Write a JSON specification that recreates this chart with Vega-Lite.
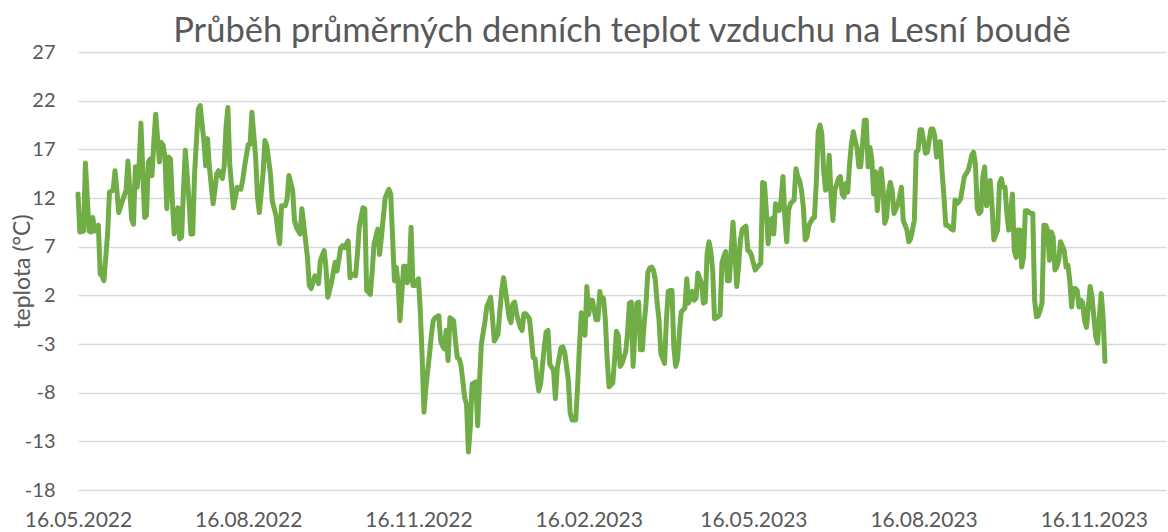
{
  "$schema": "https://vega.github.io/schema/vega-lite/v6.json",
  "width": 1088,
  "height": 438,
  "autosize": "none",
  "padding": {"left": 78, "top": 52, "right": 2, "bottom": 42},
  "background": "white",
  "config": {"view": {"stroke": null}, "font": "Lato"},
  "title": {"text": "Průběh průměrných denních teplot vzduchu na Lesní boudě", "font": "Lato", "fontSize": 34.5, "fontWeight": "normal", "color": "#595959", "anchor": "middle", "offset": 4, "dy": 11},
  "data": {"values": [
{"datum":"2022-05-16","teplota":12.4},{"datum":"2022-05-17","teplota":8.5},{"datum":"2022-05-19","teplota":8.6},{"datum":"2022-05-20","teplota":15.6},{"datum":"2022-05-22","teplota":8.6},{"datum":"2022-05-23","teplota":8.5},{"datum":"2022-05-24","teplota":10.0},{"datum":"2022-05-25","teplota":8.6},{"datum":"2022-05-27","teplota":9.2},{"datum":"2022-05-28","teplota":4.2},{"datum":"2022-05-29","teplota":4.0},{"datum":"2022-05-30","teplota":3.5},
{"datum":"2022-06-01","teplota":8.3},{"datum":"2022-06-02","teplota":12.6},{"datum":"2022-06-04","teplota":12.8},{"datum":"2022-06-05","teplota":14.8},{"datum":"2022-06-06","teplota":12.8},{"datum":"2022-06-07","teplota":10.5},{"datum":"2022-06-09","teplota":11.7},{"datum":"2022-06-11","teplota":12.8},{"datum":"2022-06-12","teplota":15.8},{"datum":"2022-06-14","teplota":9.8},{"datum":"2022-06-15","teplota":9.3},{"datum":"2022-06-16","teplota":15.2},{"datum":"2022-06-17","teplota":13.1},{"datum":"2022-06-18","teplota":15.2},{"datum":"2022-06-19","teplota":19.7},{"datum":"2022-06-21","teplota":10.0},{"datum":"2022-06-22","teplota":10.2},{"datum":"2022-06-23","teplota":15.7},{"datum":"2022-06-24","teplota":16.0},{"datum":"2022-06-25","teplota":14.3},{"datum":"2022-06-26","teplota":17.9},{"datum":"2022-06-27","teplota":20.6},{"datum":"2022-06-29","teplota":15.7},{"datum":"2022-06-30","teplota":17.7},
{"datum":"2022-07-01","teplota":17.4},{"datum":"2022-07-02","teplota":16.2},{"datum":"2022-07-03","teplota":10.9},{"datum":"2022-07-04","teplota":16.2},{"datum":"2022-07-05","teplota":16.0},{"datum":"2022-07-06","teplota":11.7},{"datum":"2022-07-07","teplota":8.3},{"datum":"2022-07-09","teplota":11.0},{"datum":"2022-07-10","teplota":7.8},{"datum":"2022-07-11","teplota":8.0},{"datum":"2022-07-12","teplota":12.8},{"datum":"2022-07-13","teplota":16.9},{"datum":"2022-07-15","teplota":11.7},{"datum":"2022-07-16","teplota":8.3},{"datum":"2022-07-17","teplota":8.3},{"datum":"2022-07-18","teplota":14.5},{"datum":"2022-07-20","teplota":21.1},{"datum":"2022-07-21","teplota":21.5},{"datum":"2022-07-23","teplota":17.9},{"datum":"2022-07-24","teplota":15.3},{"datum":"2022-07-25","teplota":18.1},{"datum":"2022-07-26","teplota":15.2},{"datum":"2022-07-28","teplota":11.4},{"datum":"2022-07-29","teplota":12.8},{"datum":"2022-07-30","teplota":14.5},{"datum":"2022-07-31","teplota":14.8},
{"datum":"2022-08-02","teplota":14.0},{"datum":"2022-08-03","teplota":15.3},{"datum":"2022-08-04","teplota":19.3},{"datum":"2022-08-05","teplota":21.3},{"datum":"2022-08-06","teplota":15.5},{"datum":"2022-08-08","teplota":11.0},{"datum":"2022-08-09","teplota":12.0},{"datum":"2022-08-10","teplota":13.1},{"datum":"2022-08-12","teplota":12.9},{"datum":"2022-08-13","teplota":13.8},{"datum":"2022-08-14","teplota":15.2},{"datum":"2022-08-16","teplota":17.5},{"datum":"2022-08-17","teplota":17.5},{"datum":"2022-08-18","teplota":20.8},{"datum":"2022-08-20","teplota":16.2},{"datum":"2022-08-21","teplota":12.1},{"datum":"2022-08-22","teplota":10.5},{"datum":"2022-08-24","teplota":14.5},{"datum":"2022-08-25","teplota":17.9},{"datum":"2022-08-26","teplota":17.4},{"datum":"2022-08-28","teplota":14.5},{"datum":"2022-08-29","teplota":11.7},{"datum":"2022-08-31","teplota":10.2},
{"datum":"2022-09-01","teplota":8.6},{"datum":"2022-09-02","teplota":7.3},{"datum":"2022-09-03","teplota":11.2},{"datum":"2022-09-05","teplota":11.2},{"datum":"2022-09-06","teplota":11.9},{"datum":"2022-09-07","teplota":14.3},{"datum":"2022-09-09","teplota":12.8},{"datum":"2022-09-10","teplota":9.7},{"datum":"2022-09-11","teplota":9.0},{"datum":"2022-09-13","teplota":8.3},{"datum":"2022-09-14","teplota":10.9},{"datum":"2022-09-15","teplota":9.3},{"datum":"2022-09-17","teplota":5.9},{"datum":"2022-09-18","teplota":3.0},{"datum":"2022-09-19","teplota":2.7},{"datum":"2022-09-21","teplota":4.0},{"datum":"2022-09-22","teplota":3.8},{"datum":"2022-09-23","teplota":3.2},{"datum":"2022-09-24","teplota":5.6},{"datum":"2022-09-26","teplota":6.6},{"datum":"2022-09-27","teplota":4.9},{"datum":"2022-09-28","teplota":1.8},{"datum":"2022-09-30","teplota":3.3},
{"datum":"2022-10-01","teplota":4.4},{"datum":"2022-10-02","teplota":5.4},{"datum":"2022-10-03","teplota":4.5},{"datum":"2022-10-05","teplota":6.9},{"datum":"2022-10-06","teplota":7.1},{"datum":"2022-10-07","teplota":6.9},{"datum":"2022-10-09","teplota":7.6},{"datum":"2022-10-10","teplota":3.8},{"datum":"2022-10-11","teplota":4.2},{"datum":"2022-10-13","teplota":4.0},{"datum":"2022-10-14","teplota":6.2},{"datum":"2022-10-15","teplota":9.0},{"datum":"2022-10-17","teplota":11.0},{"datum":"2022-10-18","teplota":10.9},{"datum":"2022-10-19","teplota":2.5},{"datum":"2022-10-21","teplota":2.1},{"datum":"2022-10-22","teplota":4.5},{"datum":"2022-10-23","teplota":7.3},{"datum":"2022-10-25","teplota":8.8},{"datum":"2022-10-26","teplota":6.2},{"datum":"2022-10-27","teplota":8.0},{"datum":"2022-10-28","teplota":10.0},{"datum":"2022-10-29","teplota":12.0},{"datum":"2022-10-31","teplota":12.9},
{"datum":"2022-11-01","teplota":12.4},{"datum":"2022-11-02","teplota":8.0},{"datum":"2022-11-03","teplota":3.5},{"datum":"2022-11-04","teplota":4.9},{"datum":"2022-11-05","teplota":3.2},{"datum":"2022-11-06","teplota":-0.6},{"datum":"2022-11-08","teplota":5.0},{"datum":"2022-11-09","teplota":5.0},{"datum":"2022-11-10","teplota":3.3},{"datum":"2022-11-11","teplota":3.8},{"datum":"2022-11-12","teplota":9.0},{"datum":"2022-11-13","teplota":3.0},{"datum":"2022-11-14","teplota":3.0},{"datum":"2022-11-16","teplota":3.7},{"datum":"2022-11-17","teplota":0.4},{"datum":"2022-11-18","teplota":-4.4},{"datum":"2022-11-19","teplota":-10.0},{"datum":"2022-11-20","teplota":-7.5},{"datum":"2022-11-22","teplota":-4.0},{"datum":"2022-11-23","teplota":-2.0},{"datum":"2022-11-24","teplota":-0.6},{"datum":"2022-11-25","teplota":-0.3},{"datum":"2022-11-27","teplota":-0.1},{"datum":"2022-11-28","teplota":-2.7},{"datum":"2022-11-29","teplota":-3.2},{"datum":"2022-11-30","teplota":-3.5},
{"datum":"2022-12-01","teplota":-1.6},{"datum":"2022-12-02","teplota":-4.7},{"datum":"2022-12-03","teplota":-0.3},{"datum":"2022-12-05","teplota":-0.6},{"datum":"2022-12-06","teplota":-2.7},{"datum":"2022-12-07","teplota":-4.4},{"datum":"2022-12-08","teplota":-4.5},{"datum":"2022-12-09","teplota":-5.2},{"datum":"2022-12-11","teplota":-8.5},{"datum":"2022-12-12","teplota":-9.2},{"datum":"2022-12-13","teplota":-14.1},{"datum":"2022-12-14","teplota":-11.6},{"datum":"2022-12-15","teplota":-7.1},{"datum":"2022-12-17","teplota":-6.9},{"datum":"2022-12-18","teplota":-11.4},{"datum":"2022-12-19","teplota":-6.8},{"datum":"2022-12-20","teplota":-3.0},{"datum":"2022-12-22","teplota":-0.6},{"datum":"2022-12-23","teplota":0.9},{"datum":"2022-12-24","teplota":1.3},{"datum":"2022-12-25","teplota":1.8},{"datum":"2022-12-26","teplota":-0.3},{"datum":"2022-12-27","teplota":-2.7},{"datum":"2022-12-29","teplota":-2.0},{"datum":"2022-12-30","teplota":0.4},{"datum":"2022-12-31","teplota":2.5},
{"datum":"2023-01-01","teplota":3.8},{"datum":"2023-01-02","teplota":2.5},{"datum":"2023-01-04","teplota":-0.3},{"datum":"2023-01-05","teplota":-0.8},{"datum":"2023-01-06","teplota":1.1},{"datum":"2023-01-07","teplota":1.3},{"datum":"2023-01-08","teplota":0.1},{"datum":"2023-01-10","teplota":-1.3},{"datum":"2023-01-11","teplota":-1.6},{"datum":"2023-01-12","teplota":0.1},{"datum":"2023-01-13","teplota":0.1},{"datum":"2023-01-15","teplota":-0.4},{"datum":"2023-01-16","teplota":-2.3},{"datum":"2023-01-17","teplota":-4.4},{"datum":"2023-01-18","teplota":-4.5},{"datum":"2023-01-19","teplota":-6.4},{"datum":"2023-01-20","teplota":-7.8},{"datum":"2023-01-21","teplota":-7.1},{"datum":"2023-01-23","teplota":-3.3},{"datum":"2023-01-24","teplota":-1.8},{"datum":"2023-01-25","teplota":-1.6},{"datum":"2023-01-26","teplota":-5.1},{"datum":"2023-01-28","teplota":-5.7},{"datum":"2023-01-29","teplota":-8.6},{"datum":"2023-01-30","teplota":-5.5},
{"datum":"2023-02-01","teplota":-3.4},{"datum":"2023-02-02","teplota":-3.3},{"datum":"2023-02-03","teplota":-3.8},{"datum":"2023-02-05","teplota":-6.7},{"datum":"2023-02-06","teplota":-10.1},{"datum":"2023-02-07","teplota":-10.8},{"datum":"2023-02-09","teplota":-10.8},{"datum":"2023-02-10","teplota":-7.4},{"datum":"2023-02-11","teplota":-3.3},{"datum":"2023-02-12","teplota":0.2},{"datum":"2023-02-13","teplota":0.0},{"datum":"2023-02-14","teplota":-2.1},{"datum":"2023-02-15","teplota":2.9},{"datum":"2023-02-16","teplota":0.0},{"datum":"2023-02-17","teplota":1.5},{"datum":"2023-02-18","teplota":1.5},{"datum":"2023-02-20","teplota":-0.5},{"datum":"2023-02-21","teplota":-0.5},{"datum":"2023-02-22","teplota":2.4},{"datum":"2023-02-23","teplota":1.5},{"datum":"2023-02-24","teplota":1.7},{"datum":"2023-02-25","teplota":-0.5},{"datum":"2023-02-26","teplota":-4.6},{"datum":"2023-02-27","teplota":-7.4},
{"datum":"2023-03-01","teplota":-7.0},{"datum":"2023-03-02","teplota":-4.6},{"datum":"2023-03-03","teplota":-1.7},{"datum":"2023-03-04","teplota":-2.1},{"datum":"2023-03-05","teplota":-5.3},{"datum":"2023-03-06","teplota":-5.0},{"datum":"2023-03-08","teplota":-3.8},{"datum":"2023-03-09","teplota":-1.9},{"datum":"2023-03-10","teplota":1.2},{"datum":"2023-03-11","teplota":1.3},{"datum":"2023-03-12","teplota":-5.3},{"datum":"2023-03-13","teplota":-1.6},{"datum":"2023-03-14","teplota":1.2},{"datum":"2023-03-15","teplota":1.3},{"datum":"2023-03-16","teplota":-3.6},{"datum":"2023-03-17","teplota":-3.6},{"datum":"2023-03-18","teplota":-0.9},{"datum":"2023-03-19","teplota":1.2},{"datum":"2023-03-20","teplota":4.4},{"datum":"2023-03-21","teplota":4.8},{"datum":"2023-03-22","teplota":4.9},{"datum":"2023-03-23","teplota":4.6},{"datum":"2023-03-24","teplota":3.6},{"datum":"2023-03-25","teplota":1.2},{"datum":"2023-03-26","teplota":-0.5},{"datum":"2023-03-27","teplota":-4.0},{"datum":"2023-03-29","teplota":-5.0},{"datum":"2023-03-30","teplota":-0.5},{"datum":"2023-03-31","teplota":2.4},
{"datum":"2023-04-01","teplota":2.5},{"datum":"2023-04-02","teplota":2.5},{"datum":"2023-04-03","teplota":-3.3},{"datum":"2023-04-04","teplota":-5.3},{"datum":"2023-04-05","teplota":-4.6},{"datum":"2023-04-06","teplota":-1.9},{"datum":"2023-04-07","teplota":0.3},{"datum":"2023-04-09","teplota":0.7},{"datum":"2023-04-10","teplota":3.7},{"datum":"2023-04-11","teplota":1.2},{"datum":"2023-04-12","teplota":1.9},{"datum":"2023-04-13","teplota":2.4},{"datum":"2023-04-14","teplota":1.5},{"datum":"2023-04-15","teplota":1.7},{"datum":"2023-04-16","teplota":4.3},{"datum":"2023-04-18","teplota":3.2},{"datum":"2023-04-19","teplota":1.2},{"datum":"2023-04-20","teplota":1.3},{"datum":"2023-04-21","teplota":6.3},{"datum":"2023-04-22","teplota":7.5},{"datum":"2023-04-23","teplota":6.5},{"datum":"2023-04-24","teplota":4.6},{"datum":"2023-04-25","teplota":-0.4},{"datum":"2023-04-27","teplota":-0.2},{"datum":"2023-04-28","teplota":0.0},{"datum":"2023-04-29","teplota":5.3},{"datum":"2023-04-30","teplota":6.0},
{"datum":"2023-05-01","teplota":6.5},{"datum":"2023-05-02","teplota":3.5},{"datum":"2023-05-03","teplota":3.5},{"datum":"2023-05-04","teplota":6.6},{"datum":"2023-05-05","teplota":9.5},{"datum":"2023-05-06","teplota":6.6},{"datum":"2023-05-07","teplota":2.9},{"datum":"2023-05-08","teplota":4.9},{"datum":"2023-05-09","teplota":7.7},{"datum":"2023-05-10","teplota":8.8},{"datum":"2023-05-12","teplota":9.1},{"datum":"2023-05-13","teplota":6.6},{"datum":"2023-05-14","teplota":6.5},{"datum":"2023-05-15","teplota":6.1},{"datum":"2023-05-16","teplota":5.3},{"datum":"2023-05-17","teplota":4.6},{"datum":"2023-05-19","teplota":5.1},{"datum":"2023-05-20","teplota":5.3},{"datum":"2023-05-21","teplota":13.6},{"datum":"2023-05-22","teplota":13.5},{"datum":"2023-05-23","teplota":10.7},{"datum":"2023-05-24","teplota":7.3},{"datum":"2023-05-25","teplota":9.7},{"datum":"2023-05-26","teplota":9.9},{"datum":"2023-05-27","teplota":8.3},{"datum":"2023-05-28","teplota":11.4},{"datum":"2023-05-30","teplota":10.7},{"datum":"2023-05-31","teplota":11.8},
{"datum":"2023-06-01","teplota":14.2},{"datum":"2023-06-02","teplota":10.0},{"datum":"2023-06-03","teplota":7.5},{"datum":"2023-06-04","teplota":10.7},{"datum":"2023-06-05","teplota":11.4},{"datum":"2023-06-07","teplota":11.8},{"datum":"2023-06-08","teplota":15.0},{"datum":"2023-06-09","teplota":14.2},{"datum":"2023-06-10","teplota":13.8},{"datum":"2023-06-11","teplota":12.8},{"datum":"2023-06-12","teplota":11.1},{"datum":"2023-06-13","teplota":7.7},{"datum":"2023-06-14","teplota":8.0},{"datum":"2023-06-15","teplota":9.2},{"datum":"2023-06-17","teplota":9.9},{"datum":"2023-06-18","teplota":10.0},{"datum":"2023-06-19","teplota":13.5},{"datum":"2023-06-20","teplota":18.8},{"datum":"2023-06-21","teplota":19.5},{"datum":"2023-06-22","teplota":18.6},{"datum":"2023-06-23","teplota":14.8},{"datum":"2023-06-24","teplota":12.8},{"datum":"2023-06-25","teplota":13.1},{"datum":"2023-06-26","teplota":16.4},{"datum":"2023-06-27","teplota":12.1},{"datum":"2023-06-28","teplota":9.7},{"datum":"2023-06-29","teplota":12.8},
{"datum":"2023-07-01","teplota":14.0},{"datum":"2023-07-02","teplota":14.2},{"datum":"2023-07-03","teplota":12.4},{"datum":"2023-07-04","teplota":12.1},{"datum":"2023-07-05","teplota":13.5},{"datum":"2023-07-06","teplota":12.6},{"datum":"2023-07-07","teplota":15.5},{"datum":"2023-07-08","teplota":17.6},{"datum":"2023-07-09","teplota":18.8},{"datum":"2023-07-10","teplota":17.9},{"datum":"2023-07-11","teplota":17.2},{"datum":"2023-07-12","teplota":15.2},{"datum":"2023-07-13","teplota":15.2},{"datum":"2023-07-15","teplota":20.0},{"datum":"2023-07-16","teplota":20.0},{"datum":"2023-07-17","teplota":15.2},{"datum":"2023-07-18","teplota":17.2},{"datum":"2023-07-19","teplota":16.0},{"datum":"2023-07-20","teplota":12.4},{"datum":"2023-07-21","teplota":14.7},{"datum":"2023-07-22","teplota":10.7},{"datum":"2023-07-23","teplota":13.5},{"datum":"2023-07-24","teplota":15.0},{"datum":"2023-07-25","teplota":13.1},{"datum":"2023-07-26","teplota":9.4},{"datum":"2023-07-27","teplota":10.0},{"datum":"2023-07-28","teplota":12.6},{"datum":"2023-07-29","teplota":13.6},{"datum":"2023-07-30","teplota":12.8},{"datum":"2023-07-31","teplota":10.4},
{"datum":"2023-08-02","teplota":11.3},{"datum":"2023-08-03","teplota":12.1},{"datum":"2023-08-04","teplota":13.1},{"datum":"2023-08-05","teplota":9.7},{"datum":"2023-08-07","teplota":8.7},{"datum":"2023-08-08","teplota":7.5},{"datum":"2023-08-09","teplota":7.8},{"datum":"2023-08-11","teplota":9.7},{"datum":"2023-08-12","teplota":16.7},{"datum":"2023-08-13","teplota":16.9},{"datum":"2023-08-14","teplota":19.0},{"datum":"2023-08-15","teplota":19.0},{"datum":"2023-08-16","teplota":17.9},{"datum":"2023-08-17","teplota":16.6},{"datum":"2023-08-18","teplota":16.7},{"datum":"2023-08-20","teplota":19.1},{"datum":"2023-08-21","teplota":19.1},{"datum":"2023-08-22","teplota":18.4},{"datum":"2023-08-23","teplota":16.2},{"datum":"2023-08-24","teplota":17.6},{"datum":"2023-08-25","teplota":17.8},{"datum":"2023-08-26","teplota":14.7},{"datum":"2023-08-27","teplota":12.1},{"datum":"2023-08-28","teplota":9.2},{"datum":"2023-08-29","teplota":9.2},{"datum":"2023-08-31","teplota":8.8},
{"datum":"2023-09-01","teplota":8.7},{"datum":"2023-09-02","teplota":11.8},{"datum":"2023-09-03","teplota":11.4},{"datum":"2023-09-04","teplota":11.6},{"datum":"2023-09-05","teplota":11.9},{"datum":"2023-09-07","teplota":14.2},{"datum":"2023-09-08","teplota":14.5},{"datum":"2023-09-09","teplota":14.8},{"datum":"2023-09-10","teplota":15.5},{"datum":"2023-09-11","teplota":16.4},{"datum":"2023-09-12","teplota":16.7},{"datum":"2023-09-13","teplota":15.5},{"datum":"2023-09-14","teplota":10.9},{"datum":"2023-09-15","teplota":10.4},{"datum":"2023-09-16","teplota":10.6},{"datum":"2023-09-17","teplota":14.2},{"datum":"2023-09-18","teplota":15.2},{"datum":"2023-09-19","teplota":11.2},{"datum":"2023-09-20","teplota":12.3},{"datum":"2023-09-21","teplota":13.8},{"datum":"2023-09-22","teplota":11.1},{"datum":"2023-09-23","teplota":7.7},{"datum":"2023-09-25","teplota":8.7},{"datum":"2023-09-26","teplota":13.5},{"datum":"2023-09-27","teplota":14.0},{"datum":"2023-09-28","teplota":13.1},{"datum":"2023-09-29","teplota":13.1},{"datum":"2023-09-30","teplota":10.4},
{"datum":"2023-10-01","teplota":8.7},{"datum":"2023-10-02","teplota":10.4},{"datum":"2023-10-03","teplota":12.4},{"datum":"2023-10-04","teplota":6.6},{"datum":"2023-10-05","teplota":5.9},{"datum":"2023-10-06","teplota":8.7},{"datum":"2023-10-07","teplota":8.7},{"datum":"2023-10-08","teplota":4.9},{"datum":"2023-10-09","teplota":5.9},{"datum":"2023-10-10","teplota":10.7},{"datum":"2023-10-11","teplota":10.7},{"datum":"2023-10-13","teplota":10.4},{"datum":"2023-10-14","teplota":10.4},{"datum":"2023-10-15","teplota":1.5},{"datum":"2023-10-16","teplota":-0.2},{"datum":"2023-10-17","teplota":-0.1},{"datum":"2023-10-18","teplota":0.5},{"datum":"2023-10-19","teplota":1.2},{"datum":"2023-10-20","teplota":9.2},{"datum":"2023-10-21","teplota":9.2},{"datum":"2023-10-22","teplota":8.7},{"datum":"2023-10-23","teplota":5.6},{"datum":"2023-10-24","teplota":8.5},{"datum":"2023-10-25","teplota":8.0},{"datum":"2023-10-26","teplota":4.6},{"datum":"2023-10-27","teplota":4.9},{"datum":"2023-10-28","teplota":5.6},{"datum":"2023-10-29","teplota":7.5},{"datum":"2023-10-31","teplota":6.6},
{"datum":"2023-11-01","teplota":4.9},{"datum":"2023-11-02","teplota":5.1},{"datum":"2023-11-03","teplota":3.5},{"datum":"2023-11-04","teplota":0.8},{"datum":"2023-11-05","teplota":2.7},{"datum":"2023-11-06","teplota":2.7},{"datum":"2023-11-07","teplota":2.5},{"datum":"2023-11-08","teplota":0.8},{"datum":"2023-11-09","teplota":1.5},{"datum":"2023-11-10","teplota":1.2},{"datum":"2023-11-11","teplota":-0.6},{"datum":"2023-11-12","teplota":-1.3},{"datum":"2023-11-14","teplota":2.9},{"datum":"2023-11-15","teplota":1.9},{"datum":"2023-11-16","teplota":-0.2},{"datum":"2023-11-17","teplota":-2.2},{"datum":"2023-11-18","teplota":-2.9},{"datum":"2023-11-19","teplota":-0.2},{"datum":"2023-11-20","teplota":2.2},{"datum":"2023-11-21","teplota":-0.2},{"datum":"2023-11-22","teplota":-4.8}
  ]},
  "mark": {"type": "line", "color": "#70AD47", "strokeWidth": 5, "strokeJoin": "round", "strokeCap": "round", "clip": false},
  "encoding": {
    "x": {
      "field": "datum", "type": "temporal",
      "scale": {"type": "utc", "domain": [{"year": 2022, "month": 5, "date": 16, "utc": true}, {"year": 2023, "month": 12, "date": 25, "utc": true}]},
      "axis": {
        "title": null, "grid": false, "domain": false, "ticks": false,
        "format": "%d.%m.%Y",
        "values": [
          {"year": 2022, "month": 5, "date": 16, "utc": true},
          {"year": 2022, "month": 8, "date": 16, "utc": true},
          {"year": 2022, "month": 11, "date": 16, "utc": true},
          {"year": 2023, "month": 2, "date": 16, "utc": true},
          {"year": 2023, "month": 5, "date": 16, "utc": true},
          {"year": 2023, "month": 8, "date": 16, "utc": true},
          {"year": 2023, "month": 11, "date": 16, "utc": true}
        ],
        "labelFont": "Lato", "labelFontSize": 21, "labelColor": "#595959",
        "labelPadding": 19, "labelOverlap": false, "labelFlush": false, "labelBound": false
      }
    },
    "y": {
      "field": "teplota", "type": "quantitative",
      "scale": {"domain": [-18, 27], "nice": false, "zero": false},
      "axis": {
        "title": "teplota (°C)", "titleFont": "Lato", "titleFontSize": 23, "titleFontWeight": "normal", "titleColor": "#595959",
        "titleX": -56, "titleY": 219, "titleAlign": "center", "titleBaseline": "middle", "titleAngle": -90,
        "values": [-18, -13, -8, -3, 2, 7, 12, 17, 22, 27],
        "labelExpr": "toString(datum.value)",
        "domain": false, "ticks": false,
        "grid": true, "gridColor": "#D9D9D9", "gridWidth": 1.3,
        "labelFont": "Lato", "labelFontSize": 20, "labelColor": "#595959", "labelPadding": 23
      }
    }
  }
}
